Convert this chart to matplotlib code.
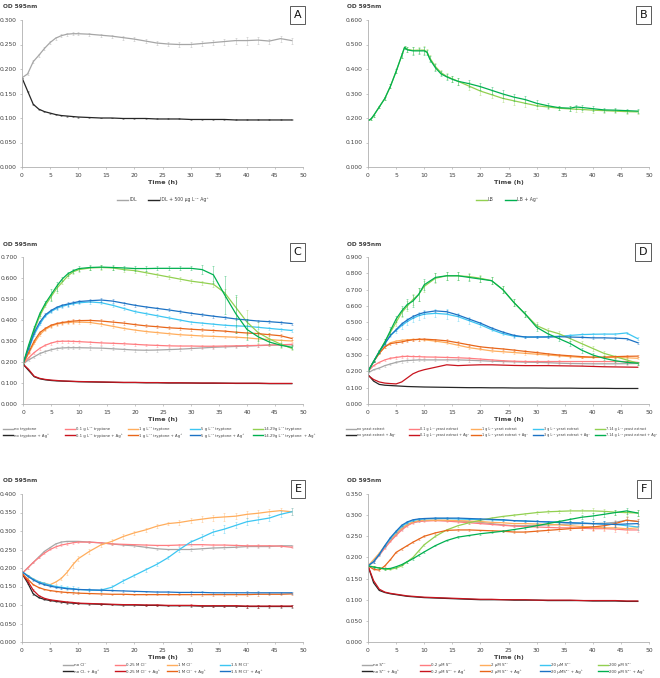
"""
Growth curves (OD 595nm) for six medium conditions, with and without Ag+.
"""
import numpy as np
import matplotlib
matplotlib.use("Agg")
import matplotlib.pyplot as plt
from matplotlib.lines import Line2D

# ---- time grids (h) ----
t = [0, 1, 2, 3, 4, 5, 6, 7, 8, 9, 10, 12, 14, 16, 18, 20, 22, 24, 26, 28,
     30, 32, 34, 36, 38, 40, 42, 44, 46, 48]
t_b = [0, 0.5, 1, 2, 3, 4, 5, 6, 6.5, 7, 8, 9, 10, 10.5, 11, 12, 13, 14, 15, 16,
       18, 20, 22, 24, 26, 28, 30, 32, 34, 36, 37, 38, 40, 42, 44, 46, 48]

# ---- panel A: IDL ----
a_idl = [0.182, 0.190, 0.215, 0.228, 0.242, 0.254, 0.263, 0.268, 0.271, 0.272, 0.272,
         0.271, 0.269, 0.267, 0.264, 0.261, 0.257, 0.253, 0.251, 0.250, 0.250, 0.252,
         0.254, 0.256, 0.258, 0.258, 0.259, 0.257, 0.262, 0.258]
a_idl_ag = [0.182, 0.155, 0.128, 0.118, 0.113, 0.110, 0.107, 0.105, 0.104, 0.103, 0.102,
            0.101, 0.100, 0.100, 0.099, 0.099, 0.099, 0.098, 0.098, 0.098, 0.097, 0.097,
            0.097, 0.097, 0.096, 0.096, 0.096, 0.096, 0.096, 0.096]
a_idl_err = [0, 0.002, 0.003, 0.003, 0.003, 0.003, 0.003, 0.003, 0.003, 0.003, 0.003,
             0.003, 0.003, 0.003, 0.004, 0.004, 0.004, 0.005, 0.005, 0.005, 0.006, 0.005,
             0.005, 0.006, 0.006, 0.008, 0.007, 0.005, 0.006, 0.006]
a_ag_err = [0, 0.001, 0.001, 0.001, 0.001, 0.001, 0.001, 0.001, 0.001, 0.001, 0.001,
            0.001, 0.001, 0.001, 0.001, 0.001, 0.001, 0.001, 0.001, 0.001, 0.001, 0.001,
            0.001, 0.001, 0.001, 0.001, 0.001, 0.001, 0.001, 0.001]

# ---- panel B: LB ----
b_lb = [0.19, 0.195, 0.21, 0.245, 0.28, 0.33, 0.39, 0.455, 0.488, 0.48, 0.476, 0.477,
        0.477, 0.47, 0.445, 0.41, 0.385, 0.37, 0.36, 0.35, 0.33, 0.31, 0.295, 0.28,
        0.27, 0.26, 0.25, 0.245, 0.24, 0.237, 0.236, 0.235, 0.232, 0.23, 0.228, 0.226, 0.225]
b_lb_ag = [0.19, 0.195, 0.21, 0.245, 0.28, 0.33, 0.39, 0.455, 0.488, 0.478, 0.474, 0.474,
           0.474, 0.468, 0.44, 0.405, 0.38, 0.368, 0.358, 0.35, 0.34, 0.328, 0.313, 0.298,
           0.285, 0.275, 0.26, 0.25, 0.242, 0.24, 0.245, 0.243, 0.238, 0.233, 0.232, 0.23, 0.228]
b_err = [0, 0.003, 0.004, 0.005, 0.006, 0.008, 0.008, 0.01, 0.005, 0.01, 0.015, 0.012,
         0.015, 0.01, 0.012, 0.015, 0.01, 0.012, 0.012, 0.015, 0.015, 0.015, 0.015, 0.015,
         0.015, 0.015, 0.012, 0.01, 0.008, 0.01, 0.01, 0.01, 0.01, 0.008, 0.008, 0.008, 0.007]

# ---- panel C: tryptone ----
c_0 = [0.19, 0.21, 0.225, 0.24, 0.25, 0.258, 0.264, 0.267, 0.268, 0.268, 0.268, 0.267,
       0.266, 0.263, 0.26, 0.257, 0.256, 0.257, 0.259, 0.261, 0.264, 0.267, 0.27, 0.272,
       0.274, 0.276, 0.278, 0.28, 0.281, 0.282]
c_01 = [0.19, 0.22, 0.245, 0.265, 0.28, 0.29, 0.297, 0.299, 0.299, 0.298, 0.297, 0.294,
        0.291, 0.289, 0.287, 0.284, 0.281, 0.279, 0.277, 0.276, 0.276, 0.275, 0.275,
        0.276, 0.277, 0.278, 0.279, 0.281, 0.282, 0.284]
c_1 = [0.19, 0.24, 0.29, 0.33, 0.355, 0.37, 0.38, 0.385, 0.388, 0.39, 0.39, 0.388, 0.38,
       0.37, 0.36, 0.352, 0.345, 0.34, 0.335, 0.33, 0.327, 0.324, 0.322, 0.32, 0.318,
       0.315, 0.31, 0.307, 0.303, 0.30]
c_5 = [0.19, 0.26, 0.33, 0.38, 0.42, 0.44, 0.455, 0.465, 0.472, 0.478, 0.482, 0.486,
       0.482, 0.47, 0.455, 0.44, 0.43, 0.42, 0.41, 0.40, 0.39, 0.385, 0.38, 0.375,
       0.372, 0.37, 0.365, 0.36, 0.355, 0.35]
c_14 = [0.19, 0.27, 0.35, 0.42, 0.47, 0.51, 0.55, 0.58, 0.61, 0.63, 0.64, 0.648, 0.65,
        0.648, 0.64, 0.635, 0.625, 0.615, 0.605, 0.595, 0.585, 0.578, 0.57, 0.53, 0.46,
        0.39, 0.34, 0.31, 0.285, 0.265]
c_0_ag = [0.19, 0.16, 0.13, 0.12, 0.115, 0.112, 0.11, 0.109, 0.108, 0.107, 0.106, 0.105,
          0.104, 0.103, 0.102, 0.102, 0.101, 0.101, 0.10, 0.10, 0.10, 0.099, 0.099, 0.099,
          0.098, 0.098, 0.098, 0.097, 0.097, 0.097]
c_01_ag = [0.19, 0.165, 0.132, 0.122, 0.117, 0.114, 0.112, 0.11, 0.109, 0.108, 0.107,
           0.106, 0.105, 0.104, 0.103, 0.103, 0.102, 0.102, 0.101, 0.101, 0.10, 0.10,
           0.10, 0.099, 0.099, 0.099, 0.099, 0.098, 0.098, 0.098]
c_1_ag = [0.19, 0.245, 0.30, 0.34, 0.36, 0.375, 0.383, 0.388, 0.392, 0.395, 0.397, 0.398,
          0.395, 0.39, 0.385, 0.378, 0.372, 0.368, 0.363, 0.36, 0.356, 0.353, 0.35,
          0.347, 0.342, 0.338, 0.335, 0.33, 0.325, 0.312]
c_5_ag = [0.19, 0.265, 0.34, 0.39, 0.425, 0.445, 0.46, 0.47, 0.476, 0.482, 0.488, 0.492,
          0.495, 0.49, 0.48, 0.47, 0.462, 0.455, 0.448, 0.44, 0.432, 0.425, 0.418, 0.412,
          0.405, 0.40, 0.395, 0.392, 0.388, 0.383]
c_14_ag = [0.19, 0.28, 0.36, 0.43, 0.48, 0.52, 0.56, 0.595, 0.62, 0.635, 0.645, 0.65,
           0.652, 0.65, 0.648, 0.645, 0.645, 0.646, 0.646, 0.646, 0.646, 0.64, 0.615,
           0.52, 0.43, 0.355, 0.32, 0.295, 0.28, 0.27]
c_err_small = [0, 0.004, 0.005, 0.006, 0.006, 0.007, 0.007, 0.007, 0.008, 0.008, 0.008,
               0.008, 0.008, 0.008, 0.008, 0.007, 0.007, 0.007, 0.007, 0.007, 0.007,
               0.007, 0.007, 0.006, 0.006, 0.006, 0.006, 0.006, 0.006, 0.005]
c_14_err = [0, 0.005, 0.01, 0.01, 0.01, 0.015, 0.02, 0.01, 0.01, 0.01, 0.01, 0.01, 0.01,
            0.01, 0.01, 0.01, 0.01, 0.01, 0.01, 0.01, 0.01, 0.01, 0.015, 0.02, 0.05,
            0.06, 0.05, 0.03, 0.02, 0.01]
c_14_ag_err = [0, 0.005, 0.01, 0.01, 0.01, 0.03, 0.02, 0.01, 0.01, 0.01, 0.01, 0.01, 0.01,
               0.01, 0.01, 0.01, 0.01, 0.01, 0.01, 0.01, 0.01, 0.02, 0.04, 0.09, 0.09,
               0.05, 0.02, 0.01, 0.01, 0.01]

# ---- panel D: yeast extract ----
d_0 = [0.19, 0.21, 0.22, 0.235, 0.245, 0.255, 0.262, 0.266, 0.268, 0.27, 0.27, 0.27,
       0.27, 0.27, 0.268, 0.265, 0.262, 0.26, 0.258, 0.256, 0.255, 0.253, 0.25, 0.248,
       0.247, 0.246, 0.246, 0.246, 0.247, 0.248]
d_01 = [0.20, 0.235, 0.255, 0.27, 0.28, 0.285, 0.29, 0.292, 0.29, 0.29, 0.288, 0.287,
        0.285, 0.283, 0.28, 0.275, 0.27, 0.265, 0.262, 0.26, 0.26, 0.26, 0.26, 0.26,
        0.26, 0.26, 0.26, 0.26, 0.26, 0.255]
d_1 = [0.20, 0.26, 0.31, 0.35, 0.375, 0.385, 0.39, 0.393, 0.395, 0.395, 0.393, 0.385,
       0.375, 0.36, 0.345, 0.335, 0.325, 0.32, 0.315, 0.31, 0.305, 0.30, 0.295, 0.29,
       0.285, 0.285, 0.285, 0.285, 0.283, 0.28]
d_3 = [0.20, 0.26, 0.32, 0.37, 0.42, 0.45, 0.48, 0.505, 0.525, 0.54, 0.55, 0.555, 0.55,
       0.535, 0.51, 0.485, 0.455, 0.43, 0.415, 0.41, 0.41, 0.412, 0.415, 0.42, 0.425,
       0.427, 0.428, 0.428, 0.435, 0.40]
d_7 = [0.20, 0.26, 0.32, 0.38, 0.44, 0.50, 0.56, 0.60, 0.64, 0.67, 0.72, 0.77, 0.785,
       0.785, 0.78, 0.77, 0.755, 0.70, 0.62, 0.55, 0.48, 0.45, 0.43, 0.40, 0.37, 0.34,
       0.31, 0.29, 0.27, 0.25]
d_0_ag = [0.18, 0.14, 0.12, 0.115, 0.113, 0.111, 0.109, 0.107, 0.106, 0.105, 0.104,
          0.103, 0.102, 0.101, 0.10, 0.10, 0.099, 0.099, 0.098, 0.098, 0.098, 0.097,
          0.097, 0.097, 0.096, 0.096, 0.096, 0.095, 0.095, 0.095]
d_01_ag = [0.175, 0.15, 0.135, 0.128, 0.125, 0.123, 0.135, 0.16, 0.185, 0.20, 0.21, 0.225,
           0.24, 0.235, 0.238, 0.24, 0.24, 0.238, 0.236, 0.235, 0.235, 0.235, 0.234,
           0.233, 0.232, 0.23, 0.228, 0.227, 0.226, 0.225]
d_1_ag = [0.20, 0.26, 0.31, 0.35, 0.37, 0.375, 0.38, 0.388, 0.393, 0.396, 0.397, 0.393,
          0.387, 0.375, 0.362, 0.35, 0.343, 0.337, 0.33, 0.322, 0.315, 0.307, 0.30, 0.295,
          0.29, 0.287, 0.287, 0.29, 0.292, 0.293]
d_3_ag = [0.20, 0.26, 0.32, 0.37, 0.42, 0.455, 0.49, 0.515, 0.535, 0.55, 0.56, 0.57,
          0.565, 0.545, 0.52, 0.495, 0.465, 0.44, 0.42, 0.41, 0.41, 0.41, 0.412, 0.41,
          0.408, 0.405, 0.405, 0.403, 0.40, 0.375]
d_7_ag = [0.20, 0.26, 0.32, 0.38, 0.45, 0.52, 0.57, 0.61, 0.63, 0.67, 0.73, 0.775, 0.785,
          0.785, 0.775, 0.765, 0.755, 0.70, 0.62, 0.55, 0.47, 0.43, 0.40, 0.37, 0.33,
          0.30, 0.28, 0.265, 0.255, 0.25]
d_err_small = [0, 0.004, 0.005, 0.006, 0.006, 0.007, 0.008, 0.008, 0.008, 0.008, 0.008,
               0.008, 0.008, 0.008, 0.008, 0.007, 0.007, 0.007, 0.007, 0.007, 0.007,
               0.007, 0.007, 0.006, 0.006, 0.006, 0.006, 0.006, 0.006, 0.005]
d_3_err = [0, 0.005, 0.01, 0.01, 0.01, 0.015, 0.02, 0.02, 0.02, 0.025, 0.025, 0.025,
           0.03, 0.025, 0.02, 0.015, 0.01, 0.01, 0.01, 0.008, 0.008, 0.008, 0.008, 0.008,
           0.008, 0.008, 0.008, 0.008, 0.008, 0.008]
d_7_err = [0, 0.005, 0.01, 0.015, 0.02, 0.02, 0.03, 0.03, 0.035, 0.04, 0.035, 0.03,
           0.025, 0.025, 0.02, 0.02, 0.02, 0.02, 0.02, 0.02, 0.02, 0.015, 0.015, 0.015,
           0.015, 0.015, 0.012, 0.01, 0.01, 0.01]

# ---- panel E: chloride ----
e_0 = [0.185, 0.20, 0.215, 0.23, 0.245, 0.255, 0.265, 0.27, 0.272, 0.272, 0.272, 0.27,
       0.268, 0.265, 0.262, 0.26, 0.256, 0.252, 0.25, 0.25, 0.25, 0.252, 0.254, 0.255,
       0.256, 0.258, 0.258, 0.258, 0.26, 0.26]
e_025 = [0.185, 0.20, 0.215, 0.228, 0.24, 0.25, 0.257, 0.262, 0.265, 0.268, 0.27, 0.27,
         0.268, 0.265, 0.264, 0.263, 0.262, 0.261, 0.261, 0.262, 0.263, 0.263, 0.262,
         0.262, 0.261, 0.26, 0.26, 0.26, 0.259, 0.256]
e_1 = [0.19, 0.18, 0.17, 0.163, 0.158, 0.155, 0.162, 0.172, 0.188, 0.208, 0.225, 0.245,
       0.262, 0.272, 0.285, 0.295, 0.303, 0.313, 0.32, 0.323, 0.328, 0.332, 0.336,
       0.338, 0.34, 0.345, 0.348, 0.352, 0.355, 0.352]
e_15 = [0.19, 0.18, 0.17, 0.163, 0.158, 0.154, 0.15, 0.148, 0.146, 0.144, 0.142, 0.14,
        0.14, 0.148, 0.165, 0.18, 0.195, 0.21, 0.228, 0.25, 0.27, 0.283, 0.297, 0.305,
        0.315, 0.325, 0.33, 0.335, 0.345, 0.352]
e_0_ag = [0.185, 0.16, 0.13, 0.12, 0.115, 0.112, 0.11, 0.108, 0.106, 0.105, 0.104, 0.103,
          0.102, 0.101, 0.10, 0.10, 0.099, 0.099, 0.098, 0.098, 0.098, 0.097, 0.097,
          0.097, 0.097, 0.096, 0.096, 0.096, 0.096, 0.096]
e_025_ag = [0.185, 0.165, 0.14, 0.125, 0.118, 0.114, 0.112, 0.11, 0.108, 0.107, 0.105,
            0.104, 0.103, 0.102, 0.101, 0.101, 0.10, 0.10, 0.099, 0.099, 0.099, 0.098,
            0.098, 0.098, 0.098, 0.097, 0.097, 0.097, 0.097, 0.097]
e_1_ag = [0.185, 0.17, 0.155, 0.147, 0.142, 0.139, 0.137, 0.135, 0.134, 0.133, 0.132,
          0.131, 0.13, 0.129, 0.129, 0.128, 0.128, 0.128, 0.128, 0.128, 0.128, 0.128,
          0.128, 0.128, 0.128, 0.128, 0.129, 0.129, 0.129, 0.13]
e_15_ag = [0.19, 0.178, 0.168, 0.16, 0.155, 0.151, 0.148, 0.146, 0.144, 0.143, 0.142,
           0.141, 0.14, 0.139, 0.138, 0.137, 0.136, 0.135, 0.135, 0.134, 0.134, 0.134,
           0.133, 0.133, 0.133, 0.133, 0.133, 0.133, 0.133, 0.133]
e_err_small = [0, 0.002, 0.002, 0.002, 0.002, 0.002, 0.002, 0.002, 0.002, 0.002, 0.002,
               0.002, 0.002, 0.002, 0.002, 0.002, 0.002, 0.002, 0.002, 0.002, 0.003,
               0.003, 0.003, 0.003, 0.003, 0.004, 0.004, 0.003, 0.003, 0.003]
e_grow_err = [0, 0.002, 0.002, 0.003, 0.003, 0.003, 0.004, 0.005, 0.006, 0.007, 0.007,
              0.007, 0.006, 0.006, 0.006, 0.005, 0.005, 0.005, 0.005, 0.006, 0.006,
              0.008, 0.008, 0.01, 0.008, 0.009, 0.008, 0.008, 0.008, 0.01]

# ---- panel F: sulfide ----
f_0 = [0.18, 0.19, 0.205, 0.225, 0.24, 0.255, 0.268, 0.277, 0.283, 0.285, 0.287, 0.288,
       0.287, 0.286, 0.285, 0.283, 0.28, 0.277, 0.275, 0.275, 0.276, 0.277, 0.278,
       0.279, 0.28, 0.28, 0.281, 0.283, 0.288, 0.285]
f_02 = [0.18, 0.19, 0.205, 0.222, 0.238, 0.252, 0.265, 0.275, 0.282, 0.285, 0.286, 0.287,
        0.286, 0.284, 0.282, 0.28, 0.278, 0.276, 0.274, 0.273, 0.272, 0.271, 0.27, 0.27,
        0.269, 0.268, 0.268, 0.267, 0.265, 0.265]
f_2 = [0.18, 0.195, 0.21, 0.228, 0.243, 0.257, 0.27, 0.278, 0.284, 0.287, 0.288, 0.288,
       0.288, 0.287, 0.286, 0.285, 0.283, 0.282, 0.28, 0.28, 0.279, 0.278, 0.277, 0.275,
       0.273, 0.272, 0.27, 0.27, 0.268, 0.27]
f_20 = [0.18, 0.19, 0.207, 0.227, 0.245, 0.26, 0.273, 0.282, 0.287, 0.29, 0.291, 0.292,
        0.292, 0.291, 0.29, 0.29, 0.289, 0.288, 0.287, 0.286, 0.285, 0.284, 0.283, 0.282,
        0.281, 0.28, 0.279, 0.278, 0.275, 0.272]
f_200 = [0.18, 0.178, 0.175, 0.172, 0.172, 0.175, 0.18, 0.19, 0.20, 0.215, 0.23, 0.25,
         0.265, 0.275, 0.282, 0.288, 0.293, 0.297, 0.30, 0.303, 0.306, 0.308, 0.309, 0.31,
         0.31, 0.31, 0.309, 0.307, 0.306, 0.305]
f_0_ag = [0.18, 0.14, 0.122, 0.117, 0.114, 0.112, 0.11, 0.108, 0.107, 0.106, 0.105,
          0.104, 0.103, 0.102, 0.101, 0.10, 0.10, 0.10, 0.099, 0.099, 0.099, 0.098, 0.098,
          0.098, 0.098, 0.097, 0.097, 0.097, 0.096, 0.096]
f_02_ag = [0.18, 0.145, 0.125, 0.118, 0.115, 0.113, 0.111, 0.109, 0.108, 0.107, 0.106,
           0.105, 0.104, 0.103, 0.102, 0.101, 0.101, 0.10, 0.10, 0.10, 0.099, 0.099,
           0.099, 0.099, 0.098, 0.098, 0.098, 0.098, 0.097, 0.097]
f_2_ag = [0.18, 0.172, 0.17, 0.18, 0.195, 0.212, 0.22, 0.228, 0.236, 0.243, 0.25, 0.258,
          0.264, 0.265, 0.265, 0.264, 0.263, 0.262, 0.26, 0.26, 0.262, 0.264, 0.266,
          0.268, 0.27, 0.272, 0.275, 0.28, 0.288, 0.285]
f_20_ag = [0.18, 0.19, 0.207, 0.228, 0.247, 0.262, 0.276, 0.284, 0.289, 0.291, 0.292,
           0.293, 0.293, 0.293, 0.292, 0.291, 0.29, 0.289, 0.287, 0.286, 0.285, 0.284,
           0.283, 0.282, 0.281, 0.28, 0.279, 0.278, 0.279, 0.28]
f_200_ag = [0.18, 0.177, 0.175, 0.173, 0.174, 0.178, 0.183, 0.19, 0.197, 0.205, 0.213,
            0.228, 0.24, 0.248, 0.252, 0.256, 0.259, 0.262, 0.266, 0.27, 0.275, 0.28,
            0.285, 0.29, 0.295, 0.298, 0.302, 0.306, 0.31, 0.305]
f_err_small = [0, 0.002, 0.002, 0.002, 0.002, 0.002, 0.002, 0.002, 0.002, 0.002, 0.002,
               0.002, 0.002, 0.002, 0.002, 0.002, 0.002, 0.002, 0.002, 0.002, 0.003,
               0.003, 0.003, 0.004, 0.005, 0.006, 0.006, 0.006, 0.007, 0.006]

# colours (Excel-like palette)
GREY, BLACK = "#a6a6a6", "#262626"
PINK, DRED = "#ff7c80", "#c8141e"
LORANGE, ORANGE = "#ffad5c", "#e8661a"
LBLUE, BLUE = "#3cc6f2", "#1c72c4"
LGREEN, GREEN = "#92d050", "#00b050"

AXC = "#b0b0b0"
TXC = "#404040"

W, H = 660, 678
fig = plt.figure(figsize=(W / 100, H / 100), dpi=100)


def px_axes(left, top, right, bottom):
    return fig.add_axes([left / W, 1 - bottom / H, (right - left) / W, (bottom - top) / H])


def draw_panel(ax, x, series, ymax, ystep, letter):
    for y, err, color in series:
        ax.plot(x, y, color=color, lw=0.9)
        if err is not None:
            ax.errorbar(x, y, yerr=err, fmt="none", ecolor=color, elinewidth=0.4,
                        capsize=0.9, capthick=0.4, alpha=0.6)
    ax.set_xlim(0, 50)
    ax.set_ylim(0, ymax)
    ax.set_xticks(np.arange(0, 51, 5))
    ax.set_yticks(np.arange(0, ymax + 1e-9, ystep))
    ax.yaxis.set_major_formatter(matplotlib.ticker.FormatStrFormatter("%.3f"))
    for s in ["top", "right"]:
        ax.spines[s].set_visible(False)
    for s in ["left", "bottom"]:
        ax.spines[s].set_color(AXC)
        ax.spines[s].set_linewidth(0.6)
    ax.tick_params(labelsize=4.3, colors=TXC, length=1.5, width=0.5, pad=2.5)
    ax.tick_params(axis="both", color=AXC)
    ax.set_xlabel("Time (h)", fontsize=4.6, fontweight="bold", color=TXC, labelpad=1.5)
    ax.text(0.995, 1.0, letter, transform=ax.transAxes, ha="right", va="bottom",
            fontsize=8, color="#111111",
            bbox=dict(boxstyle="square,pad=0.35", fc="white", ec="#404040", lw=0.6))


def od_label(x, y):
    fig.text(x / W, 1 - y / H, "OD 595nm", fontsize=4.2, fontweight="bold",
             color=TXC, ha="left", va="center")


def h(color):
    return Line2D([], [], color=color, lw=1.0)


LEG = dict(frameon=False, handletextpad=0.25, borderpad=0, borderaxespad=0,
           labelcolor=TXC)


def col_legends(handles, labels, xs, top, fs):
    for i, x in enumerate(xs):
        fig.legend(handles[2 * i:2 * i + 2], labels[2 * i:2 * i + 2], loc="upper left",
                   bbox_to_anchor=(x / W, 1 - top / H), fontsize=fs,
                   handlelength=7.0 / fs, labelspacing=1.4 / fs, **LEG)


# ---- A ----
axA = px_axes(22, 20, 303, 167)
draw_panel(axA, t, [(a_idl, a_idl_err, GREY), (a_idl_ag, a_ag_err, BLACK)],
           0.3, 0.05, "A")
od_label(3, 7)
fig.legend([h(GREY), h(BLACK)], ["IDL", "IDL + 500 µg L⁻¹ Ag⁺"], ncol=2,
           loc="center", bbox_to_anchor=(163 / W, 1 - 200 / H), columnspacing=2.5,
           fontsize=3.3, handlelength=2.4, **LEG)

# ---- B ----
axB = px_axes(368, 20, 649, 167)
draw_panel(axB, t_b, [(b_lb, b_err, LGREEN), (b_lb_ag, b_err, GREEN)], 0.6, 0.1, "B")
od_label(347, 7)
fig.legend([h(LGREEN), h(GREEN)], ["LB", "LB + Ag⁺"], ncol=2,
           loc="center", bbox_to_anchor=(507 / W, 1 - 200 / H), columnspacing=2.5,
           fontsize=3.3, handlelength=2.4, **LEG)

# ---- C ----
axC = px_axes(23, 257, 303, 404)
draw_panel(axC, t, [(c_0, c_err_small, GREY), (c_01, c_err_small, PINK),
                    (c_1, c_err_small, LORANGE), (c_5, c_err_small, LBLUE),
                    (c_14, c_14_err, LGREEN), (c_0_ag, None, BLACK),
                    (c_01_ag, None, DRED), (c_1_ag, c_err_small, ORANGE),
                    (c_5_ag, c_err_small, BLUE), (c_14_ag, c_14_ag_err, GREEN)],
           0.7, 0.1, "C")
od_label(3, 244)
col_legends([h(GREY), h(BLACK), h(PINK), h(DRED), h(LORANGE), h(ORANGE),
             h(LBLUE), h(BLUE), h(LGREEN), h(GREEN)],
            ["no tryptone", "no tryptone + Ag⁺",
             "0.1 g L⁻¹ tryptone", "0.1 g L⁻¹ tryptone + Ag⁺",
             "1 g L⁻¹ tryptone", "1 g L⁻¹ tryptone + Ag⁺",
             "5 g L⁻¹ tryptone", "5 g L⁻¹ tryptone + Ag⁺",
             "14.29g L⁻¹ tryptone", "14.29g L⁻¹ tryptone  + Ag⁺"],
            [3, 65, 128, 190, 253], 427, 2.7)

# ---- D ----
axD = px_axes(368, 257, 649, 404)
draw_panel(axD, t, [(d_0, d_err_small, GREY), (d_01, d_err_small, PINK),
                    (d_1, d_err_small, LORANGE), (d_3, d_3_err, LBLUE),
                    (d_7, d_7_err, LGREEN), (d_0_ag, None, BLACK),
                    (d_01_ag, None, DRED), (d_1_ag, d_err_small, ORANGE),
                    (d_3_ag, d_err_small, BLUE), (d_7_ag, d_7_err, GREEN)],
           0.9, 0.1, "D")
od_label(347, 244)
col_legends([h(GREY), h(BLACK), h(PINK), h(DRED), h(LORANGE), h(ORANGE),
             h(LBLUE), h(BLUE), h(LGREEN), h(GREEN)],
            ["no yeast extract", "no yeast extract + Ag⁺",
             "0.1 g L⁻¹ yeast extract", "0.1 g L⁻¹ yeast extract + Ag⁺",
             "1 g L⁻¹ yeast extract", "1 g L⁻¹ yeast extract + Ag⁺",
             "3 g L⁻¹ yeast extract", "3 g L⁻¹ yeast extract + Ag⁺",
             "7.14 g L⁻¹ yeast extract", "7.14 g L⁻¹ yeast extract + Ag⁺"],
            [346, 409, 471, 533, 595], 427, 2.4)

# ---- E ----
axE = px_axes(22, 494, 303, 642)
draw_panel(axE, t, [(e_0, e_err_small, GREY), (e_025, e_err_small, PINK),
                    (e_1, e_grow_err, LORANGE), (e_15, e_grow_err, LBLUE),
                    (e_0_ag, e_err_small, BLACK), (e_025_ag, e_err_small, DRED),
                    (e_1_ag, e_err_small, ORANGE), (e_15_ag, e_err_small, BLUE)],
           0.4, 0.05, "E")
od_label(3, 481)
col_legends([h(GREY), h(BLACK), h(PINK), h(DRED), h(LORANGE), h(ORANGE),
             h(LBLUE), h(BLUE)],
            ["no Cl⁻", "no Cl- + Ag⁺", "0.25 M Cl⁻", "0.25 M Cl⁻ + Ag⁺",
             "1 M Cl⁻", "1 M Cl⁻ + Ag⁺", "1.5 M Cl⁻", "1.5 M Cl⁻ + Ag⁺"],
            [63, 115, 167, 220], 663, 2.9)

# ---- F ----
axF = px_axes(368, 494, 649, 642)
draw_panel(axF, t, [(f_0, f_err_small, GREY), (f_02, f_err_small, PINK),
                    (f_2, f_err_small, LORANGE), (f_20, f_err_small, LBLUE),
                    (f_200, f_err_small, LGREEN), (f_0_ag, None, BLACK),
                    (f_02_ag, None, DRED), (f_2_ag, f_err_small, ORANGE),
                    (f_20_ag, f_err_small, BLUE), (f_200_ag, f_err_small, GREEN)],
           0.35, 0.05, "F")
od_label(347, 481)
col_legends([h(GREY), h(BLACK), h(PINK), h(DRED), h(LORANGE), h(ORANGE),
             h(LBLUE), h(BLUE), h(LGREEN), h(GREEN)],
            ["no S²⁻", "no S²⁻ + Ag⁺", "0.2 µM S²⁻", "0.2 µM S²⁻ + Ag⁺",
             "2 µM S²⁻", "2 µM S²⁻ + Ag⁺", "20 µM S²⁻", "20 µMS²⁻ + Ag⁺",
             "200 µM S²⁻", "200 µM S²⁻ + Ag⁺"],
            [362, 420, 480, 540, 598], 663, 2.9)

fig.savefig("out.png", dpi=100, facecolor="white")
